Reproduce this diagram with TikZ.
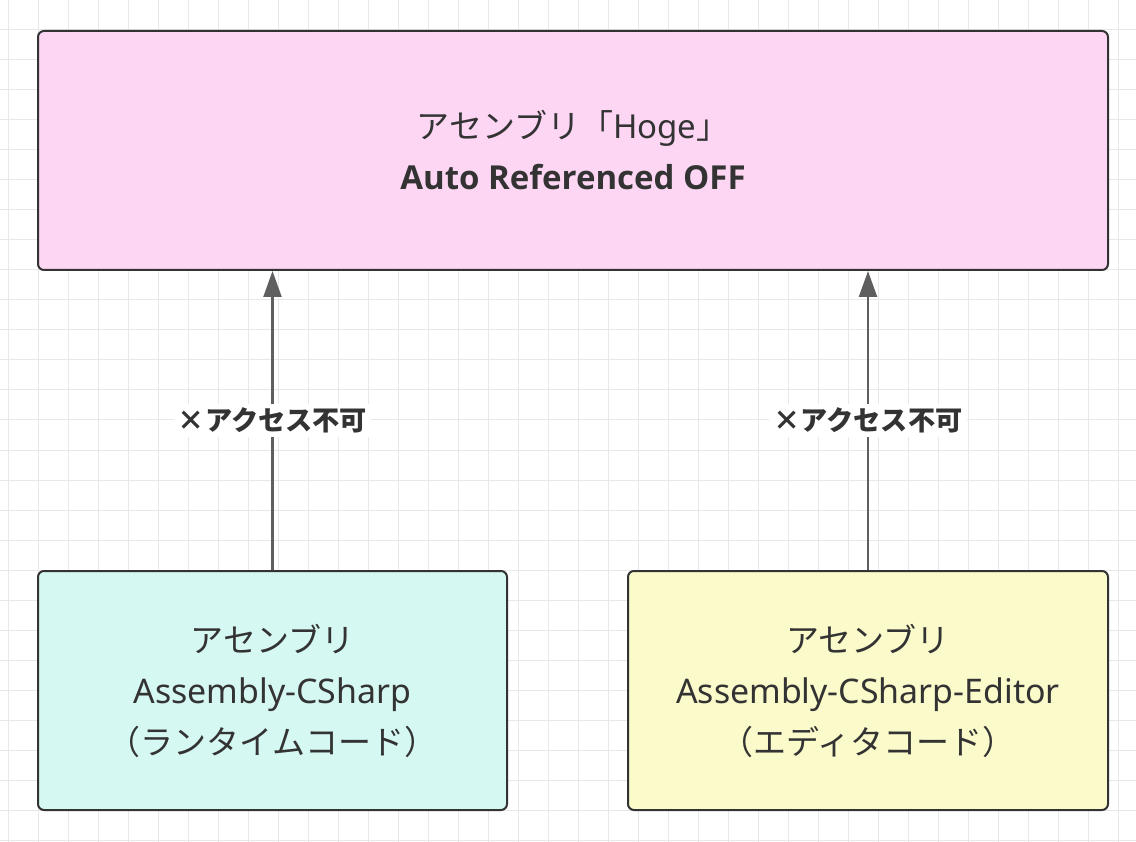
\documentclass[tikz,border=0pt]{standalone}
\usepackage{fontspec}
\setmainfont{Noto Sans}
\newfontfamily\cjk{Noto Sans CJK JP}
\newfontfamily\latbold{Open Sans}
\usetikzlibrary{arrows.meta}
\definecolor{pinkfill}{HTML}{FDD6F4}
\definecolor{tealfill}{HTML}{D6F8F2}
\definecolor{yellowfill}{HTML}{FBFACB}
\definecolor{ink}{HTML}{333333}
\definecolor{edgec}{HTML}{5F5F5F}
\definecolor{gridc}{HTML}{E8E8E8}
\newcommand{\latwide}[1]{{\fontsize{33.9}{51}\selectfont #1}}
\tikzset{
  box/.style={draw=ink, line width=2pt, rounded corners=6pt, text=ink, align=center,
    font=\fontsize{33}{51}\selectfont, minimum height=239pt, inner sep=0pt},
  arr/.style={draw=edgec, line width=2.2pt, -{Triangle[length=26pt,width=18pt]}},
  lbl/.style={fill=white, text=ink, font=\fontsize{27.2}{30}\selectfont\bfseries, inner sep=4pt}
}
\begin{document}
\begin{tikzpicture}[x=1pt,y=-1pt]
\useasboundingbox (0,0) rectangle (1136,842);
\fill[white] (0,0) rectangle (1136,842);
\foreach \x in {8,38,...,1136} \draw[gridc, line width=1pt] (\x,0) -- (\x,842);
\foreach \y in {0,30,...,842} \draw[gridc, line width=1pt] (0,\y) -- (1136,\y);
\node[box, fill=pinkfill, minimum width=1070pt] (hoge) at (573,150.5)
  {{\cjk アセンブリ「}Hoge{\cjk 」}\\ {\latbold\bfseries Auto Referenced OFF}};
\node[box, fill=tealfill, minimum width=469pt] (rt) at (272.5,690.5)
  {{\cjk アセンブリ}\\ \latwide{Assembly-CSharp}\\ {\cjk （ランタイムコード）}};
\node[box, fill=yellowfill, minimum width=480pt] (ed) at (868,690.5)
  {{\cjk アセンブリ}\\ \latwide{Assembly-CSharp-Editor}\\ {\cjk （エディタコード）}};
\draw[arr] (rt.north) -- node[lbl] {{\cjk ×アクセス不可}} (hoge.south -| rt.north);
\draw[arr] (ed.north) -- node[lbl] {{\cjk ×アクセス不可}} (hoge.south -| ed.north);
\end{tikzpicture}
\end{document}
